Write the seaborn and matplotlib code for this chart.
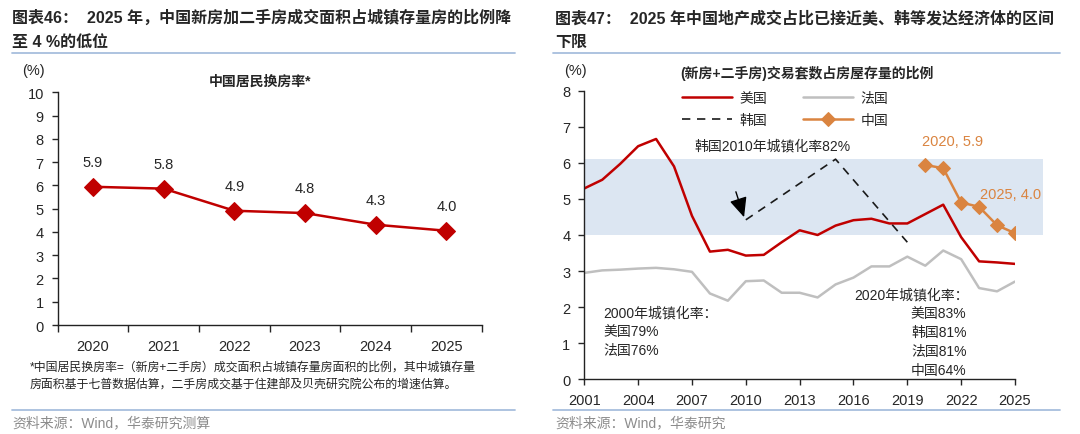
import numpy as np
import pandas as pd
import matplotlib
matplotlib.use('Agg')
import matplotlib.pyplot as plt
from matplotlib.lines import Line2D
import seaborn as sns

sns.set_theme(style='ticks')
plt.rcParams['font.family'] = ['Liberation Sans', 'Noto Sans CJK SC']
plt.rcParams['axes.unicode_minus'] = False

# left chart: China household housing turnover rate
rate_years = ['2020', '2021', '2022', '2023', '2024', '2025']
rate_vals = [5.94, 5.86, 4.91, 4.81, 4.31, 4.05]
rate_labels = ['5.9', '5.8', '4.9', '4.8', '4.3', '4.0']

# right chart: transactions as share of housing stock
years = list(range(2001, 2026))
us_vals = [5.29, 5.53, 5.97, 6.46, 6.66, 5.90, 4.53, 3.54, 3.59, 3.43, 3.45, 3.80, 4.13,
           4.00, 4.26, 4.41, 4.45, 4.32, 4.32, 4.58, 4.84, 3.94, 3.27, 3.24, 3.20]
fr_vals = [2.95, 3.02, 3.04, 3.07, 3.09, 3.05, 2.98, 2.38, 2.18, 2.72, 2.74, 2.40, 2.40,
           2.27, 2.63, 2.82, 3.13, 3.13, 3.40, 3.15, 3.57, 3.33, 2.53, 2.44, 2.71]
kr_years = [2010, 2015, 2019]
kr_vals = [4.42, 6.10, 3.80]
cn_years = [2020, 2021, 2022, 2023, 2024, 2025]
cn_vals = [5.94, 5.85, 4.90, 4.78, 4.27, 4.05]
band_lo, band_hi = 4.0, 6.1

RED = '#C00000'
GRAY = '#BFBFBF'
ORANGE = '#DA8440'
BAND = '#DCE6F2'
SEP = '#A7BEDD'

fig = plt.figure(figsize=(10.8, 4.35), dpi=100)

def fx(px):
    return px / 1080

def fy(py):
    return 1 - py / 435

# ---- titles / frame texts
fig.text(fx(12), fy(18), '图表46：  2025 年，中国新房加二手房成交面积占城镇存量房的比例降',
         fontsize=11.5, fontweight='bold', va='center')
fig.text(fx(12), fy(42), '至 4 %的低位', fontsize=11.5, fontweight='bold', va='center')
fig.text(fx(555), fy(18), '图表47：  2025 年中国地产成交占比已接近美、韩等发达经济体的区间',
         fontsize=11.5, fontweight='bold', va='center')
fig.text(fx(555), fy(42), '下限', fontsize=11.5, fontweight='bold', va='center')
for x0, x1 in [(12, 515), (553, 1060)]:
    for yy in (54, 411):
        fig.add_artist(Line2D([fx(x0), fx(x1)], [fy(yy), fy(yy)], color=SEP, lw=1.3))
fig.text(fx(12), fy(423), '资料来源：Wind，华泰研究测算', fontsize=10, color='#8C8C8C', va='center')
fig.text(fx(555), fy(423), '资料来源：Wind，华泰研究', fontsize=10, color='#8C8C8C', va='center')

# ---- left chart
ax1 = fig.add_axes([fx(57.7), fy(326), fx(481.7 - 57.7), (326 - 93.3) / 435])
df1 = pd.DataFrame({'year': rate_years, 'rate': rate_vals})
sns.lineplot(data=df1, x='year', y='rate', ax=ax1, color=RED, lw=1.8, marker='D',
             markersize=9, markeredgecolor=RED, sort=False)
for i, (v, lab) in enumerate(zip(rate_vals, rate_labels)):
    ax1.annotate(lab, (i, v), xytext=(0, 18), textcoords='offset points',
                 ha='center', va='center', fontsize=10.5)
ax1.set_xlim(-0.5, 5.5)
ax1.set_ylim(0, 10)
ax1.set_yticks(range(0, 11))
ax1.set_xticks(np.arange(-0.5, 6, 1))
ax1.set_xticklabels([])
ax1.set_xticks(range(6), minor=True)
ax1.set_xticklabels(rate_years, minor=True)
ax1.tick_params(axis='x', which='minor', length=0, pad=10, labelsize=10.5)
ax1.tick_params(axis='x', which='major', length=5, width=1, direction='out')
ax1.tick_params(axis='y', length=4, width=1, labelsize=10.5, pad=6)
ax1.set_xlabel('')
ax1.set_ylabel('')
sns.despine(ax=ax1)
for s in ('left', 'bottom'):
    ax1.spines[s].set_color('#222222')
    ax1.spines[s].set_linewidth(1)
fig.text(fx(33), fy(71), '(%)', fontsize=10.5, ha='center', va='center')
fig.text(fx(260), fy(82), '中国居民换房率*', fontsize=10, fontweight='bold', ha='center', va='center')
fig.text(fx(30), fy(368), '*中国居民换房率=（新房+二手房）成交面积占城镇存量房面积的比例，其中城镇存量',
         fontsize=8.6, va='center')
fig.text(fx(30), fy(386), '房面积基于七普数据估算，二手房成交基于住建部及贝壳研究院公布的增速估算。',
         fontsize=8.6, va='center')

# ---- right chart
ax2 = fig.add_axes([fx(584.3), fy(380.4), fx(1015 - 584.3), (380.4 - 91.6) / 435])
band = ax2.axhspan(band_lo, band_hi, xmin=0, xmax=(1043 - 584.3) / (1015 - 584.3),
                   color=BAND, zorder=0, lw=0)
band.set_clip_on(False)
df_us = pd.DataFrame({'year': years, 'v': us_vals})
df_fr = pd.DataFrame({'year': years, 'v': fr_vals})
df_kr = pd.DataFrame({'year': kr_years, 'v': kr_vals})
df_cn = pd.DataFrame({'year': cn_years, 'v': cn_vals})
sns.lineplot(data=df_us, x='year', y='v', ax=ax2, color=RED, lw=1.8, label='美国')
sns.lineplot(data=df_fr, x='year', y='v', ax=ax2, color=GRAY, lw=1.8, label='法国')
sns.lineplot(data=df_kr, x='year', y='v', ax=ax2, color='#1A1A1A', lw=1.2,
             linestyle=(0, (5, 4)), label='韩国')
sns.lineplot(data=df_cn, x='year', y='v', ax=ax2, color=ORANGE, lw=1.8, marker='D',
             markersize=7, markeredgecolor=ORANGE, label='中国')
ax2.set_xlim(2001, 2025)
ax2.set_ylim(0, 8)
ax2.set_xticks(range(2001, 2026, 3))
ax2.set_yticks(range(0, 9))
ax2.tick_params(axis='x', length=4, width=1, labelsize=10.5, pad=6)
ax2.tick_params(axis='y', length=4, width=1, labelsize=10.5, pad=6)
ax2.set_xlabel('')
ax2.set_ylabel('')
sns.despine(ax=ax2)
for s in ('left', 'bottom'):
    ax2.spines[s].set_color('#222222')
    ax2.spines[s].set_linewidth(1)
# legend rows: 美国 法国 / 韩国 中国 (matplotlib fills columns first)
handles, labels = ax2.get_legend_handles_labels()
order = [0, 2, 1, 3]
ax2.legend([handles[i] for i in order], [labels[i] for i in order],
           ncol=2, loc='upper left', bbox_to_anchor=(0.228, 1.0), frameon=False,
           fontsize=10, handlelength=3.6, handletextpad=0.5, columnspacing=2.6,
           labelspacing=0.62, borderpad=0, borderaxespad=0)

ax2.annotate('', xy=(2009.95, 4.42), xytext=(2009.4, 5.27),
             arrowprops=dict(arrowstyle='-|>,head_length=1.0,head_width=0.45',
                             color='black', lw=1))
ax2.text(2011.48, 6.49, '韩国2010年城镇化率82%', fontsize=10, ha='center', va='center')
ax2.text(2021.51, 6.61, '2020, 5.9', fontsize=10.5, color=ORANGE, ha='center', va='center')
ax2.text(2024.77, 5.14, '2025, 4.0', fontsize=10.5, color=ORANGE, ha='center', va='center')
ax2.text(2002.05, 2.05, '2000年城镇化率：\n美国79%\n法国76%', fontsize=10,
         ha='left', va='top', linespacing=1.44)
ax2.text(2016.05, 2.36, '2020年城镇化率：', fontsize=10, ha='left', va='center')
ax2.text(2022.3, 2.03, '美国83%\n韩国81%\n法国81%\n中国64%', fontsize=10,
         ha='right', va='top', linespacing=1.44, multialignment='right')
fig.text(fx(575), fy(71), '(%)', fontsize=10.5, ha='center', va='center')
fig.text(fx(807), fy(73), '(新房+二手房)交易套数占房屋存量的比例', fontsize=10,
         fontweight='bold', ha='center', va='center')

fig.savefig('out.png', dpi=100)
